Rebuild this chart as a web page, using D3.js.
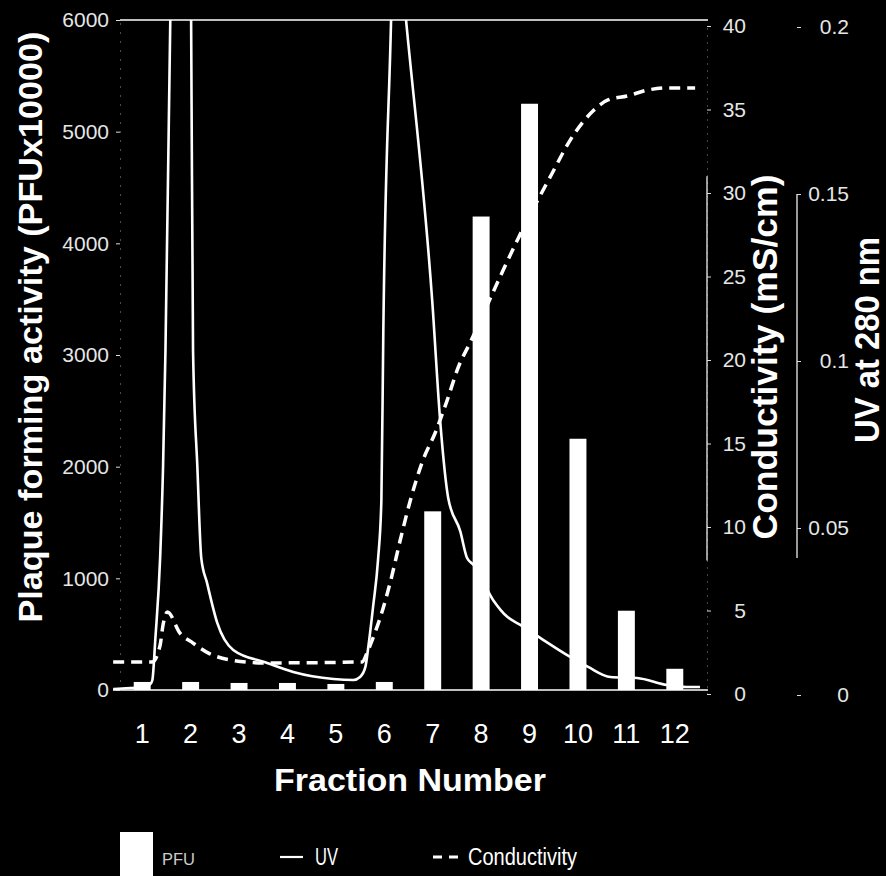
<!DOCTYPE html>
<html>
<head>
<meta charset="utf-8">
<script src="https://cdn.jsdelivr.net/npm/d3@7"></script>
<style>
body { margin: 0; background: #000; }
text { font-family: "Liberation Sans", Arial, sans-serif; }
</style>
</head>
<body>
<script>
// fractions + plaque forming activity bars
var fractions = [1, 2, 3, 4, 5, 6, 7, 8, 9, 10, 11, 12];
var pfu = [72, 72, 63, 63, 54, 72, 1600, 4240, 5250, 2250, 710, 190];

// UV trace, position in fraction units and absorbance
var uvFraction = [0.40, 0.75, 1.06, 1.17, 1.21, 1.27, 1.37, 1.43, 1.48, 1.58, 1.84, 2.01, 2.05, 2.14, 2.22,
    2.34, 2.55, 2.88, 3.58, 4.12, 4.95, 5.36, 5.50, 5.61, 5.67, 5.77, 5.87, 5.94, 5.98, 6.14, 6.20, 6.45,
    6.99, 7.16, 7.32, 7.57, 7.71, 7.84, 8.25, 8.54, 8.81, 9.22, 9.84, 10.21, 10.67, 11.22, 11.84, 12.25, 12.52];
var uvValue = [0.0018, 0.0021, 0.0024, 0.0033, 0.0045, 0.0165, 0.041, 0.068, 0.103, 0.202, 0.339, 0.202, 0.103, 0.068, 0.041,
    0.0335, 0.0216, 0.0135, 0.0096, 0.0069, 0.0048, 0.0045, 0.0054, 0.0084, 0.0144, 0.0266, 0.0404, 0.0584, 0.109, 0.202, 0.240, 0.202,
    0.118, 0.081, 0.059, 0.049, 0.041, 0.039, 0.0284, 0.0234, 0.021, 0.0171, 0.0114, 0.0084, 0.0054, 0.0051, 0.003, 0.0024, 0.0024];

// conductivity trace (mS/cm)
var condFraction = [0.40, 1.21, 1.37, 1.43, 1.52, 1.78, 2.05, 2.36, 2.82, 3.50, 5.54, 5.65, 5.75, 5.92, 6.12,
    6.33, 6.54, 6.80, 7.05, 7.30, 7.53, 7.77, 8.39, 8.75, 9.47, 9.84, 10.31, 10.62, 11.02, 11.45, 11.84, 12.42];
var condValue = [1.92, 1.92, 2.93, 4.13, 4.91, 3.65, 3.05, 2.46, 2.04, 1.86, 1.92, 2.51, 3.23, 4.61, 6.65,
    9.22, 11.62, 14.01, 15.63, 17.60, 19.58, 21.02, 24.97, 27.19, 31.20, 33.17, 34.91, 35.57, 35.81, 36.17, 36.29, 36.29];

// tick labels
var pfuTicks = [0, 1000, 2000, 3000, 4000, 5000, 6000];
var condTicks = [0, 5, 10, 15, 20, 25, 30, 35, 40];
var uvTicks = [0, 0.05, 0.1, 0.15, 0.2];
var uvTickLabels = ["0", "0.05", "0.1", "0.15", "0.2"];

var width = 886;
var height = 876;

var holder = d3.select("body")
    .append("svg")
    .attr("width", width)
    .attr("height", height);

holder.append("rect")
    .attr("width", width)
    .attr("height", height)
    .attr("fill", "#000");

var x = d3.scaleBand()
    .domain(fractions)
    .range([118, 699])
    .paddingInner(0.65)
    .paddingOuter(0.325);
var xPos = d3.scaleLinear()
    .domain([1, 12])
    .range([x(1) + x.bandwidth() / 2, x(12) + x.bandwidth() / 2]);
var yPfu = d3.scaleLinear().domain([0, 6000]).range([690, 20]);
var yCond = d3.scaleLinear().domain([0, 40]).range([694, 26]);
var yUv = d3.scaleLinear().domain([0, 0.2]).range([695, 27]);

// clip for the traces that run off the top
holder.append("clipPath")
    .attr("id", "plot")
    .append("rect")
    .attr("x", 100).attr("y", 20)
    .attr("width", 610).attr("height", 680);

// frame lines
holder.append("line")
    .attr("x1", 120).attr("x2", 708)
    .attr("y1", yPfu(6000)).attr("y2", yPfu(6000))
    .attr("stroke", "#fff").attr("stroke-width", 1.6);
holder.append("line")
    .attr("x1", 113).attr("x2", 708)
    .attr("y1", yPfu(0)).attr("y2", yPfu(0))
    .attr("stroke", "#fff").attr("stroke-width", 1.6);

// left axis
var leftAxis = holder.append("g")
    .attr("transform", "translate(120,0)")
    .call(d3.axisLeft(yPfu).tickValues(pfuTicks).tickFormat(d3.format("d"))
        .tickSize(4).tickSizeOuter(0).tickPadding(7));
leftAxis.select(".domain").attr("stroke", "#999").attr("stroke-dasharray", "1,8");
leftAxis.selectAll(".tick line").attr("stroke", "#ddd");
leftAxis.selectAll("text").attr("fill", "#e6e6e6").style("font-size", "21px");

// conductivity axis
var condAxis = holder.append("g")
    .attr("transform", "translate(707,0)")
    .call(d3.axisRight(yCond).tickValues(condTicks).tickSize(4).tickSizeOuter(0));
condAxis.select(".domain").attr("stroke", "#888").attr("stroke-dasharray", "1,6");
condAxis.selectAll(".tick line").attr("stroke", "#ddd");
condAxis.selectAll("text")
    .attr("fill", "#e6e6e6")
    .attr("text-anchor", "end")
    .attr("x", 39)
    .style("font-size", "21px");
holder.append("line")
    .attr("x1", 707).attr("x2", 707)
    .attr("y1", yCond(31)).attr("y2", yCond(8))
    .attr("stroke", "#eee").attr("stroke-width", 1.3);

// UV axis
var uvAxis = holder.append("g")
    .attr("transform", "translate(797,0)")
    .call(d3.axisRight(yUv).tickValues(uvTicks).tickSize(4).tickSizeOuter(0)
        .tickFormat(function(d, i) { return uvTickLabels[i]; }));
uvAxis.select(".domain").attr("stroke", "none");
uvAxis.selectAll(".tick line").attr("stroke", "#ddd");
uvAxis.selectAll("text")
    .attr("fill", "#e6e6e6")
    .attr("text-anchor", "end")
    .attr("x", 52)
    .style("font-size", "21px");
holder.append("line")
    .attr("x1", 797).attr("x2", 797)
    .attr("y1", yUv(0.15)).attr("y2", yUv(0.041))
    .attr("stroke", "#eee").attr("stroke-width", 1.3);

// fraction labels
var xAxis = holder.append("g")
    .attr("transform", "translate(0," + yPfu(0) + ")")
    .call(d3.axisBottom(x).tickSize(0).tickPadding(34));
xAxis.select(".domain").remove();
xAxis.selectAll("text").attr("fill", "#fff").style("font-size", "27px");

// traces
var uvLine = d3.line()
    .curve(d3.curveMonotoneX)
    .x(function(d) { return xPos(d[0]); })
    .y(function(d) { return yUv(d[1]); });
var condLine = d3.line()
    .curve(d3.curveMonotoneX)
    .x(function(d) { return xPos(d[0]); })
    .y(function(d) { return yCond(d[1]); });

holder.append("path")
    .datum(d3.zip(condFraction, condValue))
    .attr("clip-path", "url(#plot)")
    .attr("d", condLine)
    .attr("fill", "none")
    .attr("stroke", "#fff")
    .attr("stroke-width", 3.5)
    .attr("stroke-dasharray", "11,7");

holder.append("path")
    .datum(d3.zip(uvFraction, uvValue))
    .attr("clip-path", "url(#plot)")
    .attr("d", uvLine)
    .attr("fill", "none")
    .attr("stroke", "#fff")
    .attr("stroke-width", 2.6)
    .attr("stroke-linejoin", "round");

// PFU bars
holder.selectAll("rect.bar")
    .data(fractions)
    .enter()
    .append("rect")
    .attr("class", "bar")
    .attr("x", function(d) { return x(d); })
    .attr("width", x.bandwidth())
    .attr("y", function(d, i) { return yPfu(pfu[i]); })
    .attr("height", function(d, i) { return yPfu(0) - yPfu(pfu[i]); })
    .attr("fill", "#fff");

// axis titles
holder.append("text")
    .attr("transform", "translate(42,327) rotate(-90)")
    .attr("text-anchor", "middle")
    .attr("fill", "#fff")
    .style("font-size", "34px")
    .style("font-weight", "bold")
    .attr("textLength", 591)
    .attr("lengthAdjust", "spacingAndGlyphs")
    .text("Plaque forming activity (PFUx10000)");

holder.append("text")
    .attr("transform", "translate(777,357) rotate(-90)")
    .attr("text-anchor", "middle")
    .attr("fill", "#fff")
    .style("font-size", "35px")
    .style("font-weight", "bold")
    .attr("textLength", 365)
    .attr("lengthAdjust", "spacingAndGlyphs")
    .text("Conductivity (mS/cm)");

holder.append("text")
    .attr("transform", "translate(879,340) rotate(-90)")
    .attr("text-anchor", "middle")
    .attr("fill", "#fff")
    .style("font-size", "35px")
    .style("font-weight", "bold")
    .attr("textLength", 206)
    .attr("lengthAdjust", "spacingAndGlyphs")
    .text("UV at 280 nm");

holder.append("text")
    .attr("x", 410)
    .attr("y", 791)
    .attr("text-anchor", "middle")
    .attr("fill", "#fff")
    .style("font-size", "31px")
    .style("font-weight", "bold")
    .attr("textLength", 272)
    .attr("lengthAdjust", "spacingAndGlyphs")
    .text("Fraction Number");

// legend
holder.append("rect")
    .attr("x", 120).attr("y", 832)
    .attr("width", 33).attr("height", 50)
    .attr("fill", "#fff");
holder.append("text")
    .attr("x", 162).attr("y", 865)
    .attr("fill", "#ccc")
    .style("font-size", "17px")
    .attr("textLength", 33)
    .attr("lengthAdjust", "spacingAndGlyphs")
    .text("PFU");

holder.append("line")
    .attr("x1", 280).attr("x2", 303)
    .attr("y1", 857).attr("y2", 857)
    .attr("stroke", "#fff").attr("stroke-width", 2.2);
holder.append("text")
    .attr("x", 315).attr("y", 865)
    .attr("fill", "#fff")
    .style("font-size", "23px")
    .attr("textLength", 23)
    .attr("lengthAdjust", "spacingAndGlyphs")
    .text("UV");

holder.append("line")
    .attr("x1", 433).attr("x2", 460)
    .attr("y1", 857).attr("y2", 857)
    .attr("stroke", "#fff").attr("stroke-width", 3)
    .attr("stroke-dasharray", "9,7");
holder.append("text")
    .attr("x", 468).attr("y", 865)
    .attr("fill", "#fff")
    .style("font-size", "23px")
    .attr("textLength", 109)
    .attr("lengthAdjust", "spacingAndGlyphs")
    .text("Conductivity");
</script>
</body>
</html>
